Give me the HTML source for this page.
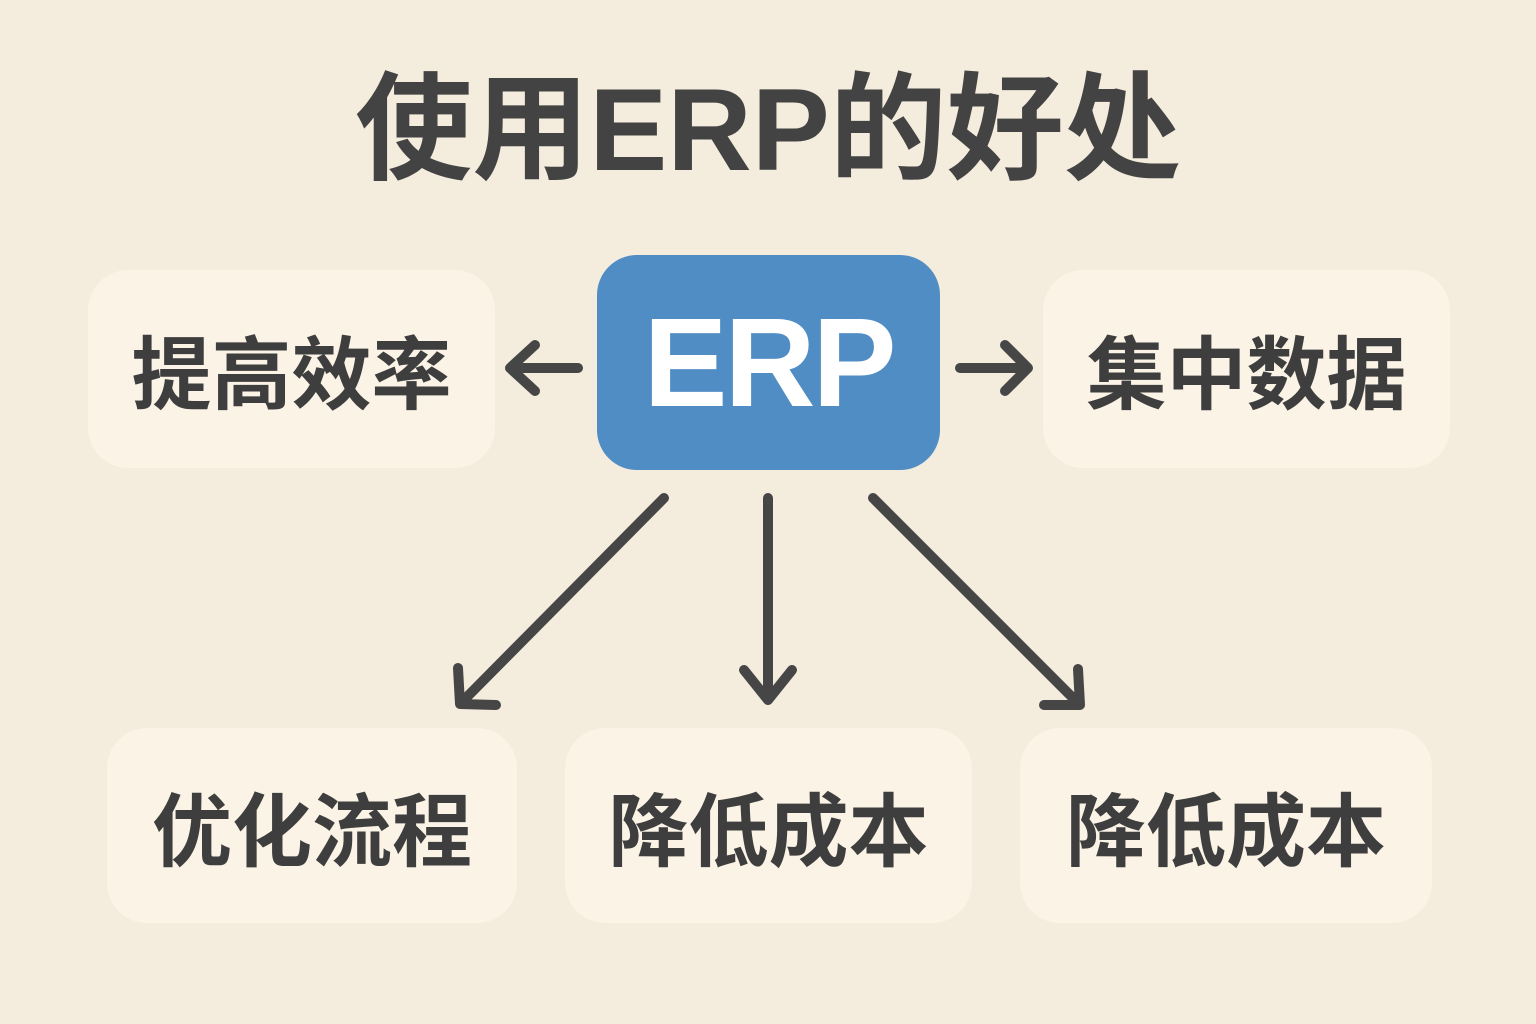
<!DOCTYPE html>
<html><head><meta charset="utf-8"><style>
html,body{margin:0;padding:0;}
body{width:1536px;height:1024px;background:#f4ecdd;position:relative;overflow:hidden;font-family:"Liberation Sans","Noto Sans CJK SC",sans-serif;}
.t{position:absolute;left:0;width:1536px;top:60px;text-align:center;font-size:117px;font-weight:bold;color:#434343;line-height:140px;}
.b{position:absolute;background:#faf3e6;border-radius:40px;display:flex;align-items:center;justify-content:center;font-size:80px;font-weight:bold;color:#3e3e3e;}
.erp{position:absolute;left:597px;top:255px;width:343px;height:215px;background:#508dc4;border-radius:40px;display:flex;align-items:center;justify-content:center;color:#fff;font-size:126px;font-weight:bold;letter-spacing:-3px;}
svg{position:absolute;left:0;top:0;}
</style></head><body>
<div class="t">使用ERP的好处</div>
<div class="b" style="left:88px;top:270px;width:407px;height:198px;">提高效率</div>
<div class="b" style="left:1043px;top:270px;width:407px;height:198px;">集中数据</div>
<div class="b" style="left:107px;top:728px;width:410px;height:195px;">优化流程</div>
<div class="b" style="left:565px;top:728px;width:407px;height:195px;">降低成本</div>
<div class="b" style="left:1020px;top:728px;width:412px;height:195px;">降低成本</div>
<div class="erp">ERP</div>
<svg width="1536" height="1024" fill="none" stroke="#464646" stroke-width="10" stroke-linecap="round" stroke-linejoin="round">
<path d="M578 368H510M535 345L510 368L535 391"/>
<path d="M960 368H1028M1005 345L1028 368L1005 391"/>
<path d="M768 498V700M744 670L768 700L792 670"/>
<path d="M664 498L460 704M458 668L460 704L496 705"/>
<path d="M873 498L1080 705M1044 705L1080 705L1078 669"/>
</svg>
</body></html>
